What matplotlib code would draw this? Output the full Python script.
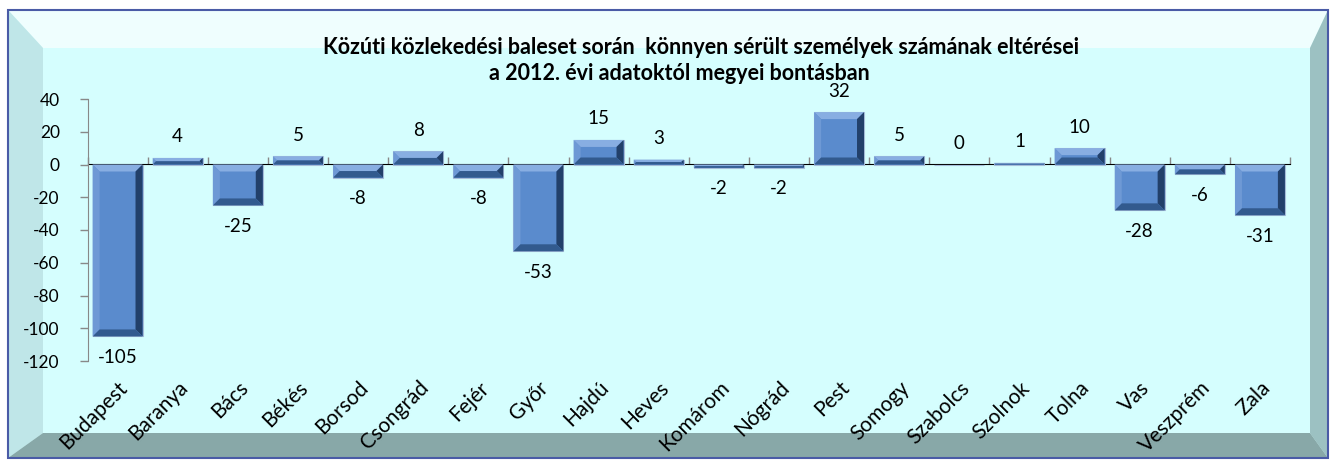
import matplotlib
matplotlib.use("Agg")
import matplotlib.pyplot as plt
from matplotlib.patches import Polygon, Rectangle

plt.rcParams['font.family'] = ['Lato', 'DejaVu Sans']

counties = ["Budapest", "Baranya", "Bács", "Békés", "Borsod", "Csongrád", "Fejér",
            "Győr", "Hajdú", "Heves", "Komárom", "Nógrád", "Pest", "Somogy",
            "Szabolcs", "Szolnok", "Tolna", "Vas", "Veszprém", "Zala"]
diffs = [-105, 4, -25, 5, -8, 8, -8, -53, 15, 3, -2, -2, 32, 5, 0, 1, 10, -28, -6, -31]
yticks = [-120, -100, -80, -60, -40, -20, 0, 20, 40]
title1 = "Közúti közlekedési baleset során  könnyen sérült személyek számának eltérései"
title2 = "a 2012. évi adatoktól megyei bontásban"

W, H = 1336, 466
fig = plt.figure(figsize=(W / 100, H / 100), dpi=100, facecolor="white")


def px(x, y):
    # image pixel (top-down) -> figure fraction
    return (x / W, 1 - y / H)


def fpoly(pts, color, z=0):
    fig.add_artist(Polygon([px(*p) for p in pts], closed=True, transform=fig.transFigure,
                           facecolor=color, edgecolor="none", zorder=z))


# chart frame with bevel
L, T, R, B = 8, 10, 1328, 458
il, it, ir, ib = 35, 38, 18, 25
fpoly([(L, T), (R, T), (R, B), (L, B)], "#d5fefe", -5)
fpoly([(L, T), (R, T), (R - ir, T + it), (L + il, T + it)], "#effefe", -4)
fpoly([(L, T), (L + il, T + it), (L + il, B - ib), (L, B)], "#bfe6e8", -4)
fpoly([(R, T), (R, B), (R - ir, B - ib), (R - ir, T + it)], "#9cc1c2", -4)
fpoly([(L, B), (L + il, B - ib), (R - ir, B - ib), (R, B)], "#88a8a8", -4)
fig.add_artist(Rectangle(px(L, B), (R - L) / W, (B - T) / H, transform=fig.transFigure,
                         facecolor="none", edgecolor="#4a5ba6", linewidth=1.5, zorder=-3))

ax = fig.add_axes([87.5 / W, 1 - 361 / H, (1290 - 87.5) / W, (361 - 99) / H])
ax.patch.set_alpha(0)
ymin, ymax = -120, 40
ax.set_ylim(ymin, ymax)
ax.set_xlim(-0.5, len(counties) - 0.5)

x = range(len(counties))
bars = ax.bar(x, diffs, width=0.83, color="#5a8bcd", edgecolor="#a6bcd8", linewidth=0.8, zorder=3)
ax.bar_label(bars, labels=[str(v) for v in diffs], padding=9, fontsize=13.5, color="black")

# bevel on each bar
fig.canvas.draw()
for p in bars.patches:
    bb = p.get_window_extent()
    x0, y0, x1, y1 = bb.x0, bb.y0, bb.x1, bb.y1
    b = min(7, (y1 - y0) / 2, (x1 - x0) / 2)
    if b <= 0.5:
        continue
    for pts, c in [
        ([(x0, y1), (x1, y1), (x1 - b, y1 - b), (x0 + b, y1 - b)], "#88aee2"),
        ([(x0, y0), (x0, y1), (x0 + b, y1 - b), (x0 + b, y0 + b)], "#6e99d5"),
        ([(x1, y0), (x1, y1), (x1 - b, y1 - b), (x1 - b, y0 + b)], "#22406a"),
        ([(x0, y0), (x1, y0), (x1 - b, y0 + b), (x0 + b, y0 + b)], "#325a8e"),
    ]:
        fig.add_artist(Polygon(pts, closed=True, transform=None, facecolor=c,
                               edgecolor="none", zorder=4))

ax.set_yticks(yticks)
ax.set_yticklabels([str(v) for v in yticks], fontsize=12.5)
ax.tick_params(axis="y", length=6, width=1, color="#888888", pad=14)
ax.set_xticks(list(x))
ax.set_xticklabels(counties, rotation=45, ha="right", rotation_mode="anchor", fontsize=15)
ax.tick_params(axis="x", length=0, pad=12)
for s in ["top", "right", "bottom"]:
    ax.spines[s].set_visible(False)
ax.spines["left"].set_color("#888888")

# category axis line at zero, ticks between categories
sec = ax.secondary_xaxis((0 - ymin) / (ymax - ymin))
sec.set_xticks([i - 0.5 for i in range(len(counties) + 1)])
sec.set_xticklabels([])
sec.tick_params(axis="x", direction="out", length=5, width=1, color="#888888")
sec.spines["bottom"].set_color("#888888")
sec.spines["bottom"].set_linewidth(1.5)

fig.text(701 / W, 1 - 48 / H, title1, ha="center", va="center", fontsize=15.5, fontweight="bold")
fig.text(679 / W, 1 - 73 / H, title2, ha="center", va="center", fontsize=15.5, fontweight="bold")

fig.savefig("out.png", dpi=100, facecolor="white")
